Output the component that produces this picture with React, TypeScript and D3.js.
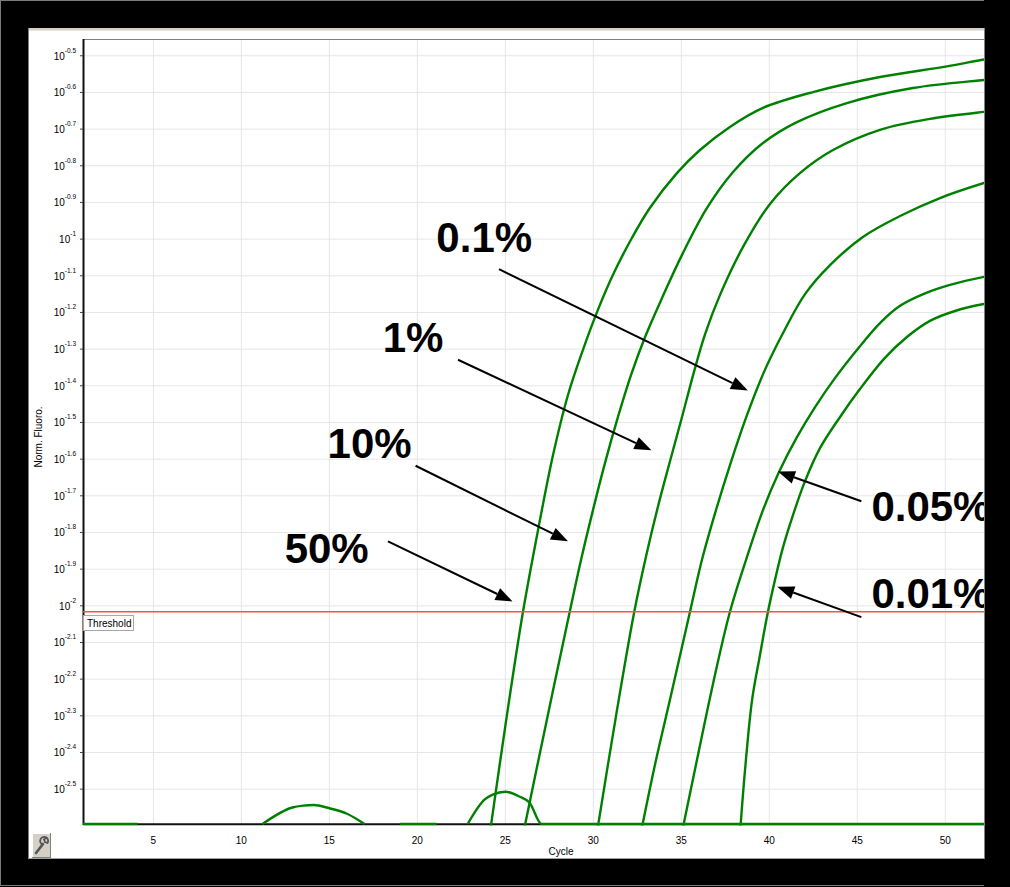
import React from 'react';
import * as d3 from 'd3';

const W = 1010;
const H = 887;

// log10 of the axis floor / ceiling
const FLOOR = -2.595;
const CEIL = -0.457;
const THRESHOLD = -2.016;

const xTicks = [5, 10, 15, 20, 25, 30, 35, 40, 45, 50];
const yTickExponents = [
  -0.5, -0.6, -0.7, -0.8, -0.9, -1, -1.1, -1.2, -1.3, -1.4, -1.5,
  -1.6, -1.7, -1.8, -1.9, -2, -2.1, -2.2, -2.3, -2.4, -2.5,
];

type Pt = [number, number | null];

// [cycle, log10(Norm. Fluoro.)]
const curve50: Pt[] = [
  [24.13, -2.617], [25.09, -2.298], [26.0, -2.017], [26.86, -1.793], [27.71, -1.589],
  [28.56, -1.425], [29.41, -1.302], [30.26, -1.193], [31.17, -1.092], [32.19, -0.997],
  [33.21, -0.915], [34.75, -0.82], [36.06, -0.757], [37.76, -0.694], [39.64, -0.642],
  [42.48, -0.599], [46.29, -0.558], [50.1, -0.529], [52.2, -0.51], [53, -0.505],
];
const curve10: Pt[] = [
  [26.06, -2.611], [27.31, -2.322], [28.62, -2.025], [29.3, -1.875], [29.98, -1.739],
  [30.66, -1.611], [31.4, -1.485], [32.14, -1.371], [32.94, -1.267], [33.9, -1.161],
  [35.04, -1.043], [36.46, -0.915], [37.94, -0.817], [39.64, -0.738], [41.57, -0.681],
  [44.41, -0.629], [48.16, -0.588], [52.2, -0.566], [53, -0.562],
];
const curve1: Pt[] = [
  [30.21, -2.617], [31.29, -2.3], [32.31, -2.02], [33.0, -1.864], [33.68, -1.728],
  [34.36, -1.605], [35.04, -1.485], [35.72, -1.362], [36.35, -1.259], [37.2, -1.152],
  [38.5, -1.022], [40.04, -0.904], [41.74, -0.82], [43.62, -0.757], [46.29, -0.702],
  [49.13, -0.672], [52.2, -0.653], [53, -0.649],
];
const curve01: Pt[] = [
  [32.71, -2.617], [33.5, -2.434], [34.35, -2.257], [35.49, -2.017], [36.17, -1.875],
  [36.97, -1.739], [37.82, -1.608], [38.73, -1.48], [39.7, -1.362], [40.78, -1.256],
  [42.03, -1.15], [43.45, -1.071], [45.32, -0.994], [47.43, -0.937], [49.7, -0.888],
  [52.2, -0.847], [53, -0.836],
];
const curve005: Pt[] = [
  [35.04, -2.617], [35.89, -2.42], [36.8, -2.213], [37.76, -2.017], [38.73, -1.867],
  [39.64, -1.739], [40.55, -1.635], [41.57, -1.54], [42.6, -1.458], [43.73, -1.379],
  [45.15, -1.292], [46.29, -1.229], [47.43, -1.182], [48.85, -1.148], [50.27, -1.125],
  [52.2, -1.103], [53, -1.097],
];
const curve001: Pt[] = [
  [38.34, -2.617], [38.62, -2.448], [39.02, -2.257], [39.47, -2.134], [39.92, -2.017],
  [40.32, -1.93], [40.77, -1.842], [41.35, -1.752], [42.03, -1.66], [42.88, -1.57],
  [44.02, -1.485], [45.15, -1.409], [46.57, -1.324], [47.82, -1.267], [49.13, -1.223],
  [50.55, -1.196], [52.2, -1.177], [53, -1.172],
];
// non-amplifying wells (null = gap)
const baselineA: Pt[] = [
  [1, FLOOR], [4.1, FLOOR], [4.1, null],
  [11.2, FLOOR], [12.9, -2.55], [13.5, -2.545], [14.1, -2.543], [15.0, -2.552],
  [16.0, -2.567], [17.0, FLOOR],
];
const baselineB: Pt[] = [
  [19, FLOOR], [21.1, FLOOR], [21.1, null],
  [22.86, FLOOR], [23.83, -2.528], [24.28, -2.515], [25.0, -2.507], [25.8, -2.52],
  [26.38, -2.537], [27.06, FLOOR], [53, FLOOR],
];

const baselines = [baselineA, baselineB];
const amplified = [curve50, curve10, curve1, curve01, curve005, curve001];

const annLabels = ['0.1%', '1%', '10%', '50%', '0.05%', '0.01%'];
const annLabelAt: [number, number][] = [
  [21.08, -1.034], [18.03, -1.307], [14.9, -1.597], [12.46, -1.883], [45.8, -1.77], [45.8, -2.006],
];
const annFrom: [number, number][] = [
  [24.64, -1.082], [22.31, -1.329], [19.9, -1.618], [18.33, -1.824], [45.23, -1.715], [45.23, -2.031],
];
const annTo: [number, number][] = [
  [38.78, -1.413], [33.3, -1.576], [28.56, -1.824], [25.41, -1.988], [40.49, -1.634], [40.45, -1.948],
];

const FONT = "'Liberation Sans', Arial, Helvetica, sans-serif";

export default function App() {
  const left = 83, right = 984, top = 40, bottom = 824;
  const x = d3.scaleLinear().domain([1, 52.2]).range([left, right]);
  const y = d3.scaleLog().domain([Math.pow(10, FLOOR), Math.pow(10, CEIL)]).range([bottom, top]);
  const ye = (e: number) => y(Math.pow(10, e));

  const baseLine = d3
    .line<Pt>()
    .defined((d) => d[1] !== null)
    .x((d) => x(d[0]))
    .y((d) => ye(d[1] as number))
    .curve(d3.curveMonotoneX);
  const ampLine = d3
    .line<Pt>()
    .x((d) => x(d[0]))
    .y((d) => ye(d[1] as number))
    .curve(d3.curveCatmullRom.alpha(0.5));

  const arrows = annLabels.map((label, i) => {
    const [fx, fy] = [x(annFrom[i][0]), ye(annFrom[i][1])];
    const [tx, ty] = [x(annTo[i][0]), ye(annTo[i][1])];
    const ang = Math.atan2(ty - fy, tx - fx);
    const L = 17, hw = 6.5;
    const bx = tx - L * Math.cos(ang), by = ty - L * Math.sin(ang);
    const p1 = [bx + hw * Math.sin(ang), by - hw * Math.cos(ang)];
    const p2 = [bx - hw * Math.sin(ang), by + hw * Math.cos(ang)];
    return { label, fx, fy, tx, ty, bx, by, pts: `${tx},${ty} ${p1[0]},${p1[1]} ${p2[0]},${p2[1]}`, lx: x(annLabelAt[i][0]), ly: ye(annLabelAt[i][1]) };
  });

  return (
    <svg width={W} height={H} style={{ position: 'absolute', left: 0, top: 0 }} fontFamily={FONT}>
      <defs>
        <clipPath id="plotClip">
          <rect x={left} y={top - 2} width={right - left} height={bottom - top + 3.5} />
        </clipPath>
      </defs>
      <rect x={0} y={0} width={W} height={H} fill="#000" />
      <rect x={0.5} y={0.5} width={W - 2} height={885} fill="none" stroke="#7a7a7a" strokeWidth={1} />
      {/* window panel */}
      <rect x={28} y={28} width={956} height={831} fill="#fff" />
      <rect x={28} y={28} width={956} height={2.5} fill="#d4d0c8" />
      <line x1={28.5} y1={28} x2={28.5} y2={859} stroke="#808080" />
      <line x1={28} y1={858.5} x2={984} y2={858.5} stroke="#a0a0a0" />

      {/* grid */}
      {xTicks.map((t) => (
        <line key={'gx' + t} x1={x(t)} x2={x(t)} y1={top} y2={bottom} stroke="#e6e6e6" strokeWidth={1} />
      ))}
      {yTickExponents.map((e) => (
        <line key={'gy' + e} x1={left} x2={right} y1={ye(e)} y2={ye(e)} stroke="#e6e6e6" strokeWidth={1} />
      ))}
      <line x1={left} x2={right} y1={top - 0.5} y2={top - 0.5} stroke="#808080" strokeWidth={1} />

      {/* axes */}
      <line x1={left} x2={right} y1={bottom + 0.3} y2={bottom + 0.3} stroke="#111" strokeWidth={2} />
      <line x1={left + 0.5} x2={left + 0.5} y1={top - 1} y2={bottom + 1} stroke="#111" strokeWidth={2} />

      {/* y ticks */}
      {yTickExponents.map((e) => (
        <g key={'yt' + e}>
          <line x1={left - 3} x2={left} y1={ye(e)} y2={ye(e)} stroke="#444" strokeWidth={1} />
          <text x={76} y={ye(e) + 4} textAnchor="end" fontSize={10} fill="#000">
            10
            <tspan dy={-7} fontSize={6.5}>{String(e)}</tspan>
          </text>
        </g>
      ))}
      {/* x ticks */}
      {xTicks.map((t) => (
        <text key={'xt' + t} x={x(t)} y={844} textAnchor="middle" fontSize={10} fill="#000">
          {t}
        </text>
      ))}
      <text x={561} y={855} textAnchor="middle" fontSize={10} fill="#000">Cycle</text>
      <text transform={`translate(42,437) rotate(-90)`} textAnchor="middle" fontSize={10} fill="#000">
        Norm. Fluoro.
      </text>

      {/* curves */}
      <g clipPath="url(#plotClip)">
        {baselines.map((s, i) => (
          <path key={'b' + i} d={baseLine(s) || ''} fill="none" stroke="#008000" strokeWidth={2.4} strokeLinejoin="round" />
        ))}
        {amplified.map((s, i) => (
          <path key={'a' + i} d={ampLine(s) || ''} fill="none" stroke="#008000" strokeWidth={2.4} strokeLinejoin="round" />
        ))}
      </g>

      {/* threshold */}
      <line x1={left} x2={right} y1={ye(THRESHOLD)} y2={ye(THRESHOLD)} stroke="#f05555" strokeWidth={1.5} />
      <rect x={83.5} y={615.5} width={50} height={15} fill="#fff" stroke="#a8a8a8" />
      <text x={87} y={627} fontSize={10} fill="#000">Threshold</text>

      {/* annotations */}
      {arrows.map((a) => (
        <g key={a.label}>
          <line x1={a.fx} y1={a.fy} x2={a.bx} y2={a.by} stroke="#000" strokeWidth={2} />
          <polygon points={a.pts} fill="#000" />
          <text x={a.lx} y={a.ly} fontSize={42} fontWeight="bold" fill="#000">{a.label}</text>
        </g>
      ))}

      {/* right frame overlays */}
      <rect x={984} y={0} width={W - 984} height={H} fill="#000" />
      <line x1={984.5} y1={28} x2={984.5} y2={859} stroke="#808080" />

      {/* wrench button */}
      <g>
        <rect x={32} y={833} width={19} height={25} fill="#d4d0c8" />
        <line x1={32} y1={833.5} x2={51} y2={833.5} stroke="#fff" />
        <line x1={32.5} y1={833} x2={32.5} y2={858} stroke="#fff" />
        <line x1={32} y1={857.5} x2={51} y2={857.5} stroke="#808080" />
        <line x1={50.5} y1={833} x2={50.5} y2={858} stroke="#808080" />
        <path d="M36,853 L43,844" stroke="#555" strokeWidth={2.6} strokeLinecap="round" />
        <path d="M42.5,844.5 A4,4 0 1 1 47.5,843 L45,842 L44,839.5 L46,838" fill="none" stroke="#555" strokeWidth={1.8} />
      </g>
    </svg>
  );
}
